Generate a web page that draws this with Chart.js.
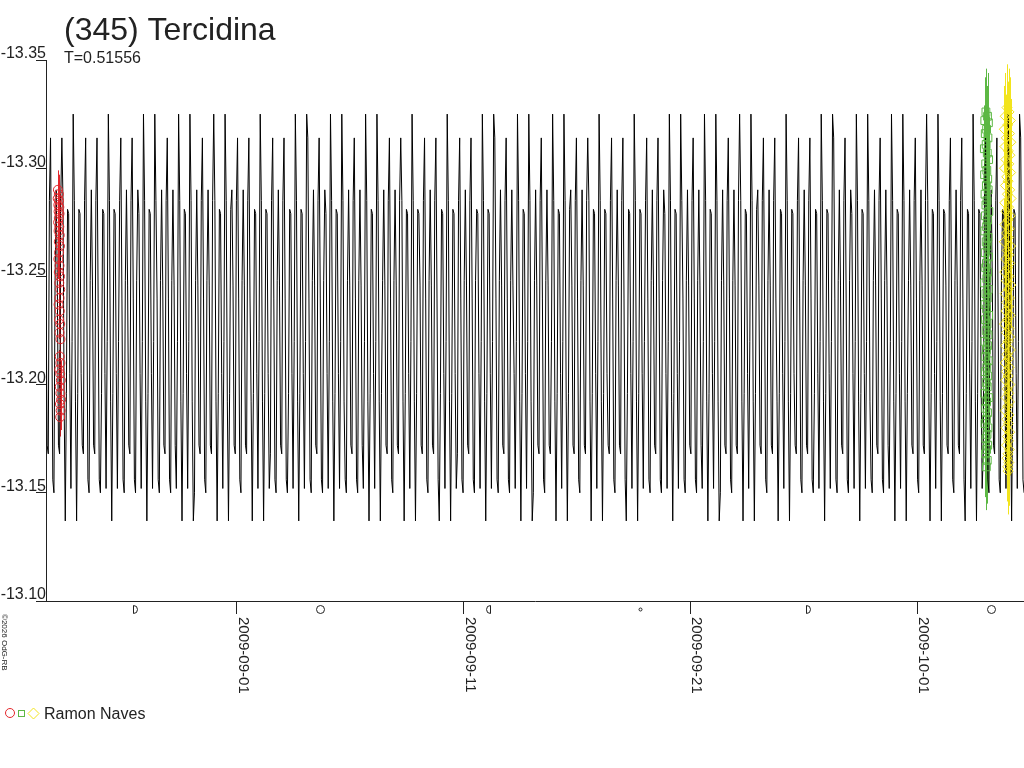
<!DOCTYPE html>
<html><head><meta charset="utf-8">
<script src="https://cdn.jsdelivr.net/npm/chart.js@4.4.1/dist/chart.umd.min.js"></script>
<style>html,body{margin:0;padding:0;background:#fff}#wrap{width:1024px;height:768px}</style>
</head><body><div id="wrap"><canvas id="c" width="1024" height="768"></canvas></div>
<script>
// ---------- data (x = days from 2009-09-01 00:00 UT, y = reduced magnitude) ----------
const TITLE = '(345) Tercidina';
const SUBTITLE = 'T=0.51556';
const PERIOD = 0.51556;
const COPYRIGHT = '\u00A92026 OdG-RB';
const OBSERVER = 'Ramon Naves';
const X_MIN = -8.426, X_MAX = 34.72;
const Y_MIN = -13.35, Y_MAX = -13.10;
const xTickDays = [0, 10, 20, 30];
const xTickLabels = ['2009-09-01', '2009-09-11', '2009-09-21', '2009-10-01'];
const yTicks = [-13.35, -13.30, -13.25, -13.20, -13.15, -13.10];
const moonDays = [-4.51, 3.67, 11.09, 17.78, 25.20, 33.26];
const moonPhases = ['first', 'full', 'last', 'new', 'first', 'full'];
// one rotation of the model light curve, read from the envelope (phase 0 .. 0.95)
const modelPhaseMags = [-13.325, -13.314, -13.285, -13.240, -13.192, -13.156, -13.137, -13.150, -13.196, -13.248,
                        -13.281, -13.290, -13.279, -13.246, -13.205, -13.172, -13.152, -13.168, -13.220, -13.285];
const modelEpoch = -5.678;   // day of a primary maximum
const modelStep = 0.05;      // sampling step of the plotted model (days)
// observations [day, mag]
const redObs = [[-7.90,-13.290],[-7.86,-13.288],[-7.91,-13.286],[-7.85,-13.285],[-7.88,-13.283],[-7.84,-13.282],
  [-7.87,-13.280],[-7.83,-13.279],[-7.86,-13.277],[-7.89,-13.275],[-7.84,-13.273],[-7.87,-13.271],[-7.82,-13.269],
  [-7.86,-13.266],[-7.81,-13.264],[-7.85,-13.261],[-7.88,-13.258],[-7.83,-13.255],[-7.86,-13.252],[-7.81,-13.250],
  [-7.84,-13.247],[-7.80,-13.244],[-7.83,-13.240],[-7.87,-13.237],[-7.82,-13.234],[-7.85,-13.230],[-7.80,-13.228],
  [-7.83,-13.224],[-7.79,-13.221],[-7.82,-13.213],[-7.79,-13.210],[-7.84,-13.207],[-7.80,-13.205],[-7.77,-13.202],
  [-7.82,-13.199],[-7.79,-13.196],[-7.76,-13.193],[-7.81,-13.191],[-7.78,-13.188],[-7.80,-13.185]];
const greenObs = [
  [33.04,-13.326],[33.11,-13.324],[32.99,-13.322],[33.15,-13.321],[33.07,-13.318],[33.01,-13.316],[33.13,-13.314],[33.05,-13.311],[32.97,-13.309],[33.10,-13.307],
  [33.16,-13.304],[33.03,-13.302],[33.08,-13.299],[32.98,-13.297],[33.12,-13.295],[33.06,-13.292],[33.14,-13.290],[33.00,-13.288],[33.09,-13.285],[33.04,-13.283],
  [33.17,-13.280],[33.02,-13.278],[33.11,-13.276],[33.07,-13.273],[32.99,-13.271],[33.13,-13.268],[33.05,-13.266],[33.10,-13.264],[33.01,-13.261],[33.15,-13.259],
  [33.06,-13.256],[33.03,-13.254],[33.12,-13.252],[33.08,-13.249],[32.98,-13.247],[33.14,-13.244],[33.04,-13.242],[33.10,-13.240],[33.00,-13.237],[33.07,-13.235],
  [33.16,-13.232],[33.02,-13.230],[33.09,-13.228],[33.05,-13.225],[33.13,-13.223],[32.99,-13.220],[33.11,-13.218],[33.06,-13.216],[33.03,-13.213],[33.14,-13.211],
  [33.08,-13.208],[33.01,-13.206],[33.12,-13.204],[33.05,-13.201],[33.10,-13.199],[32.98,-13.196],[33.15,-13.194],[33.07,-13.192],[33.03,-13.189],[33.11,-13.187],
  [33.06,-13.184],[33.00,-13.182],[33.13,-13.180],[33.09,-13.177],[33.04,-13.175],[33.12,-13.172],[33.07,-13.170],[33.02,-13.168],[33.10,-13.165],[33.06,-13.162]];
const yellowObs = [
  [33.97,-13.328],[34.06,-13.326],[33.89,-13.324],[34.12,-13.322],[34.00,-13.320],[33.85,-13.318],[34.08,-13.316],[33.94,-13.314],[34.14,-13.312],[33.88,-13.310],
  [34.03,-13.308],[34.10,-13.306],[33.92,-13.304],[34.05,-13.302],[33.86,-13.300],[34.13,-13.298],[33.96,-13.296],[34.02,-13.294],[33.90,-13.292],[34.09,-13.290],
  [33.99,-13.288],[34.15,-13.286],[33.87,-13.284],[34.04,-13.282],[33.93,-13.280],[34.11,-13.278],[34.01,-13.276],[33.88,-13.274],[34.07,-13.272],[33.95,-13.270],
  [34.03,-13.268],[33.85,-13.266],[34.13,-13.264],[33.98,-13.262],[34.05,-13.260],[33.91,-13.258],[34.09,-13.256],[34.00,-13.254],[33.87,-13.252],[34.06,-13.250],
  [33.94,-13.248],[34.14,-13.246],[34.02,-13.244],[33.89,-13.242],[34.08,-13.240],[33.96,-13.238],[34.04,-13.236],[33.92,-13.234],[34.11,-13.232],[33.99,-13.230],
  [33.86,-13.228],[34.06,-13.226],[33.95,-13.224],[34.09,-13.222],[34.01,-13.220],[33.90,-13.218],[34.12,-13.216],[33.97,-13.214],[34.04,-13.212],[33.88,-13.210],
  [34.07,-13.208],[33.94,-13.206],[34.02,-13.204],[33.91,-13.202],[34.10,-13.200],[33.98,-13.198],[34.05,-13.196],[33.93,-13.194],[34.08,-13.192],[34.00,-13.190],
  [33.89,-13.188],[34.06,-13.186],[33.96,-13.184],[34.03,-13.182],[33.92,-13.180],[34.09,-13.178],[33.99,-13.176],[34.04,-13.174],[33.95,-13.172],[34.07,-13.170],
  [34.01,-13.168],[33.97,-13.166],[34.05,-13.164],[34.00,-13.162],[34.02,-13.160]];
const redErr = 0.009, greenErr = 0.02, yellowErr = 0.02;

// ---------- build ----------
const modelData = [];
for (let t = X_MIN - modelStep; t <= X_MAX + modelStep; t += modelStep) {
  let ph = ((t - modelEpoch) / PERIOD) % 1; if (ph < 0) ph += 1;
  const i = Math.round(ph * modelPhaseMags.length) % modelPhaseMags.length;
  modelData.push({x: t, y: modelPhaseMags[i]});
}
const toPts = arr => arr.map(([t, m]) => ({x: t, y: m}));
const RED = '#e4262b', GREEN = '#5cb844', YELLOW = '#f2e41c', INK = '#222';
const FONT = '"Liberation Sans", Arial, sans-serif';
const obsSeries = [
  {data: redObs, err: redErr, color: RED},
  {data: greenObs, err: greenErr, color: GREEN},
  {data: yellowObs, err: yellowErr, color: YELLOW}
];

function drawMoon(ctx, px, py, type) {
  ctx.beginPath();
  if (type === 'full') ctx.arc(px, py, 4, 0, 2 * Math.PI);
  else if (type === 'new') ctx.arc(px, py, 1.5, 0, 2 * Math.PI);
  else if (type === 'first') { ctx.moveTo(px - 2, py - 4); ctx.arc(px - 2, py, 4, -Math.PI / 2, Math.PI / 2, false); ctx.closePath(); }
  else { ctx.moveTo(px + 2, py - 4); ctx.arc(px + 2, py, 4, -Math.PI / 2, Math.PI / 2, true); ctx.closePath(); }
  ctx.stroke();
}

const decor = {
  id: 'decor',
  beforeDatasetsDraw(chart) {
    const {ctx, chartArea: a, scales: {x, y}} = chart;
    ctx.save();
    ctx.beginPath(); ctx.rect(a.left, a.top, a.right - a.left, a.bottom - a.top); ctx.clip();
    ctx.lineWidth = 1;
    obsSeries.forEach(s => {
      ctx.strokeStyle = s.color;
      ctx.beginPath();
      s.data.forEach(([t, m]) => {
        const px = Math.round(x.getPixelForValue(t)) + 0.5;
        ctx.moveTo(px, y.getPixelForValue(m - s.err));
        ctx.lineTo(px, y.getPixelForValue(m + s.err));
      });
      ctx.stroke();
    });
    ctx.restore();
  },
  afterDraw(chart) {
    const {ctx, scales: {x}} = chart;
    const base = chart.chartArea.bottom;
    ctx.save();
    ctx.fillStyle = INK; ctx.strokeStyle = INK; ctx.lineWidth = 1;
    // title
    ctx.font = '32px ' + FONT; ctx.textAlign = 'left'; ctx.textBaseline = 'alphabetic';
    ctx.fillText(TITLE, 64, 40);
    ctx.font = '16px ' + FONT;
    ctx.fillText(SUBTITLE, 64, 63);
    // x tick labels, rotated
    ctx.font = '15px ' + FONT;
    xTickDays.forEach((d, i) => {
      const px = x.getPixelForValue(d);
      ctx.save(); ctx.translate(Math.round(px) + 2, base + 16); ctx.rotate(Math.PI / 2);
      ctx.fillText(xTickLabels[i], 0, 0); ctx.restore();
    });
    // moon phases
    moonDays.forEach((d, i) => drawMoon(ctx, Math.round(x.getPixelForValue(d)) + 0.5, base + 8.5, moonPhases[i]));
    // copyright
    ctx.font = '8px ' + FONT;
    ctx.save(); ctx.translate(2, base + 13); ctx.rotate(Math.PI / 2); ctx.fillText(COPYRIGHT, 0, 0); ctx.restore();
    // legend
    ctx.strokeStyle = RED; ctx.beginPath(); ctx.arc(10, 713, 4.5, 0, 2 * Math.PI); ctx.stroke();
    ctx.strokeStyle = GREEN; ctx.strokeRect(18.5, 710.5, 6, 6);
    ctx.strokeStyle = YELLOW; ctx.beginPath();
    ctx.moveTo(33.5, 708); ctx.lineTo(39, 713.5); ctx.lineTo(33.5, 719); ctx.lineTo(28, 713.5); ctx.closePath(); ctx.stroke();
    ctx.fillStyle = INK; ctx.font = '16px ' + FONT;
    ctx.fillText(OBSERVER, 44, 719);
    ctx.restore();
  }
};

new Chart(document.getElementById('c'), {
  type: 'scatter',
  data: {datasets: [
    {label: 'red', data: toPts(redObs), pointStyle: 'circle', pointRadius: 4.5, borderColor: RED, backgroundColor: 'rgba(0,0,0,0)', borderWidth: 1},
    {label: 'green', data: toPts(greenObs), pointStyle: 'rect', pointRadius: 5.5, borderColor: GREEN, backgroundColor: 'rgba(0,0,0,0)', borderWidth: 1},
    {label: 'yellow', data: toPts(yellowObs), pointStyle: 'rectRot', pointRadius: 5, borderColor: YELLOW, backgroundColor: 'rgba(0,0,0,0)', borderWidth: 1},
    {label: 'model', data: modelData, showLine: true, borderColor: '#000', borderWidth: 1, pointRadius: 0, pointHoverRadius: 0, tension: 0}
  ]},
  options: {
    responsive: false, animation: false, events: [],
    layout: {autoPadding: false, padding: {top: 60, left: 0, right: 0, bottom: 0}},
    plugins: {legend: {display: false}, tooltip: {enabled: false}, title: {display: false}},
    scales: {
      x: {type: 'linear', position: 'bottom', min: X_MIN, max: X_MAX,
        afterBuildTicks: s => { s.ticks = xTickDays.map(v => ({value: v})); },
        afterFit: s => { s.height = 167; },
        ticks: {display: false},
        grid: {display: true, drawOnChartArea: false, drawTicks: true, tickLength: 13, color: INK, lineWidth: 1},
        border: {display: true, color: INK, width: 1}},
      y: {type: 'linear', position: 'left', reverse: true, min: Y_MIN, max: Y_MAX,
        afterBuildTicks: s => { s.ticks = yTicks.map(v => ({value: v})); },
        afterFit: s => { s.width = 46; },
        ticks: {display: true, padding: -10, labelOffset: -6, color: INK, font: {family: FONT, size: 16},
          callback: v => Number(v).toFixed(2)},
        grid: {display: true, drawOnChartArea: false, drawTicks: true, tickLength: 10, color: INK, lineWidth: 1},
        border: {display: true, color: INK, width: 1}}
    }
  },
  plugins: [decor]
});
</script></body></html>
